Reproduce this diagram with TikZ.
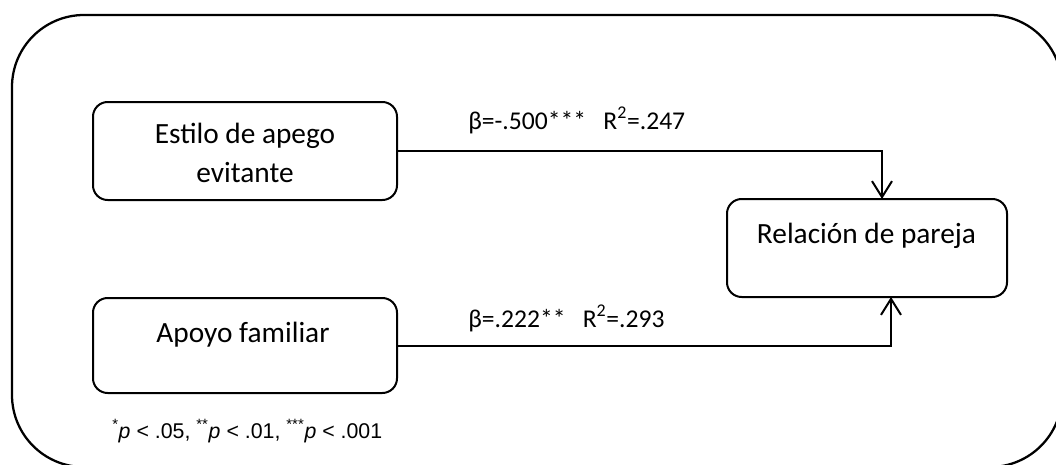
\documentclass[tikz,border=0pt]{standalone}
\usepackage{fontspec}
\setmainfont{Carlito}
\newfontfamily\notefont{Liberation Sans}
\usetikzlibrary{arrows.meta}

\begin{document}
\begin{tikzpicture}[x=0.75pt,y=-0.75pt,
  varbox/.style={draw, line width=1.5pt, rounded corners=11pt,
    inner sep=0pt, outer sep=0pt, minimum width=#1},
  boxtext/.style={anchor=base, inner sep=0pt, font=\fontsize{22}{26}\selectfont},
  coeftext/.style={anchor=base west, inner sep=0pt, font=\fontsize{19.2}{23}\selectfont},
  path/.style={line width=1.5pt, -{Straight Barb[length=12pt,width=15pt,line width=1.5pt]}}
]
\useasboundingbox (0,0) rectangle (1056,464);
\clip (0,0) rectangle (1056,464);

% outer frame
\draw[line width=1.7pt, rounded corners=54pt] (12,15) rectangle (1062,467);

% variable boxes
\node[varbox=228pt, minimum height=73.5pt] (estilo) at (245,151) {};
\node[varbox=228pt, minimum height=71.25pt] (apoyo) at (245,345.5) {};
\node[varbox=210pt, minimum height=73.5pt] (relacion) at (867,248) {};

\node[boxtext] (estiloA) at (245,143) {Estilo de apego};
\node[boxtext] (estiloB) at (245,182) {evitante};
\node[boxtext] (apoyoT) at (243,342) {Apoyo familiar};
\node[boxtext] (relacionT) at (866.5,243) {Relación de pareja};

% paths
\draw[path] (estilo.east) -| ([xshift=11.25pt]relacion.north);
\draw[path] (apoyo.east) -| ([xshift=18pt]relacion.south);

% coefficients
\node[coeftext] (coefA) at (468,129) {β=-.500***\hspace{13pt}R\textsuperscript{2}=.247};
\node[coeftext] (coefB) at (468,327) {β=.222**\hspace{13pt}R\textsuperscript{2}=.293};

% significance note
\node[anchor=base west, inner sep=0pt, font=\notefont\fontsize{16}{19}\selectfont] (nota) at (112,438)
  {\textsuperscript{*}\textit{p} < .05, \textsuperscript{**}\textit{p} < .01, \textsuperscript{***}\textit{p} < .001};
\end{tikzpicture}
\end{document}
